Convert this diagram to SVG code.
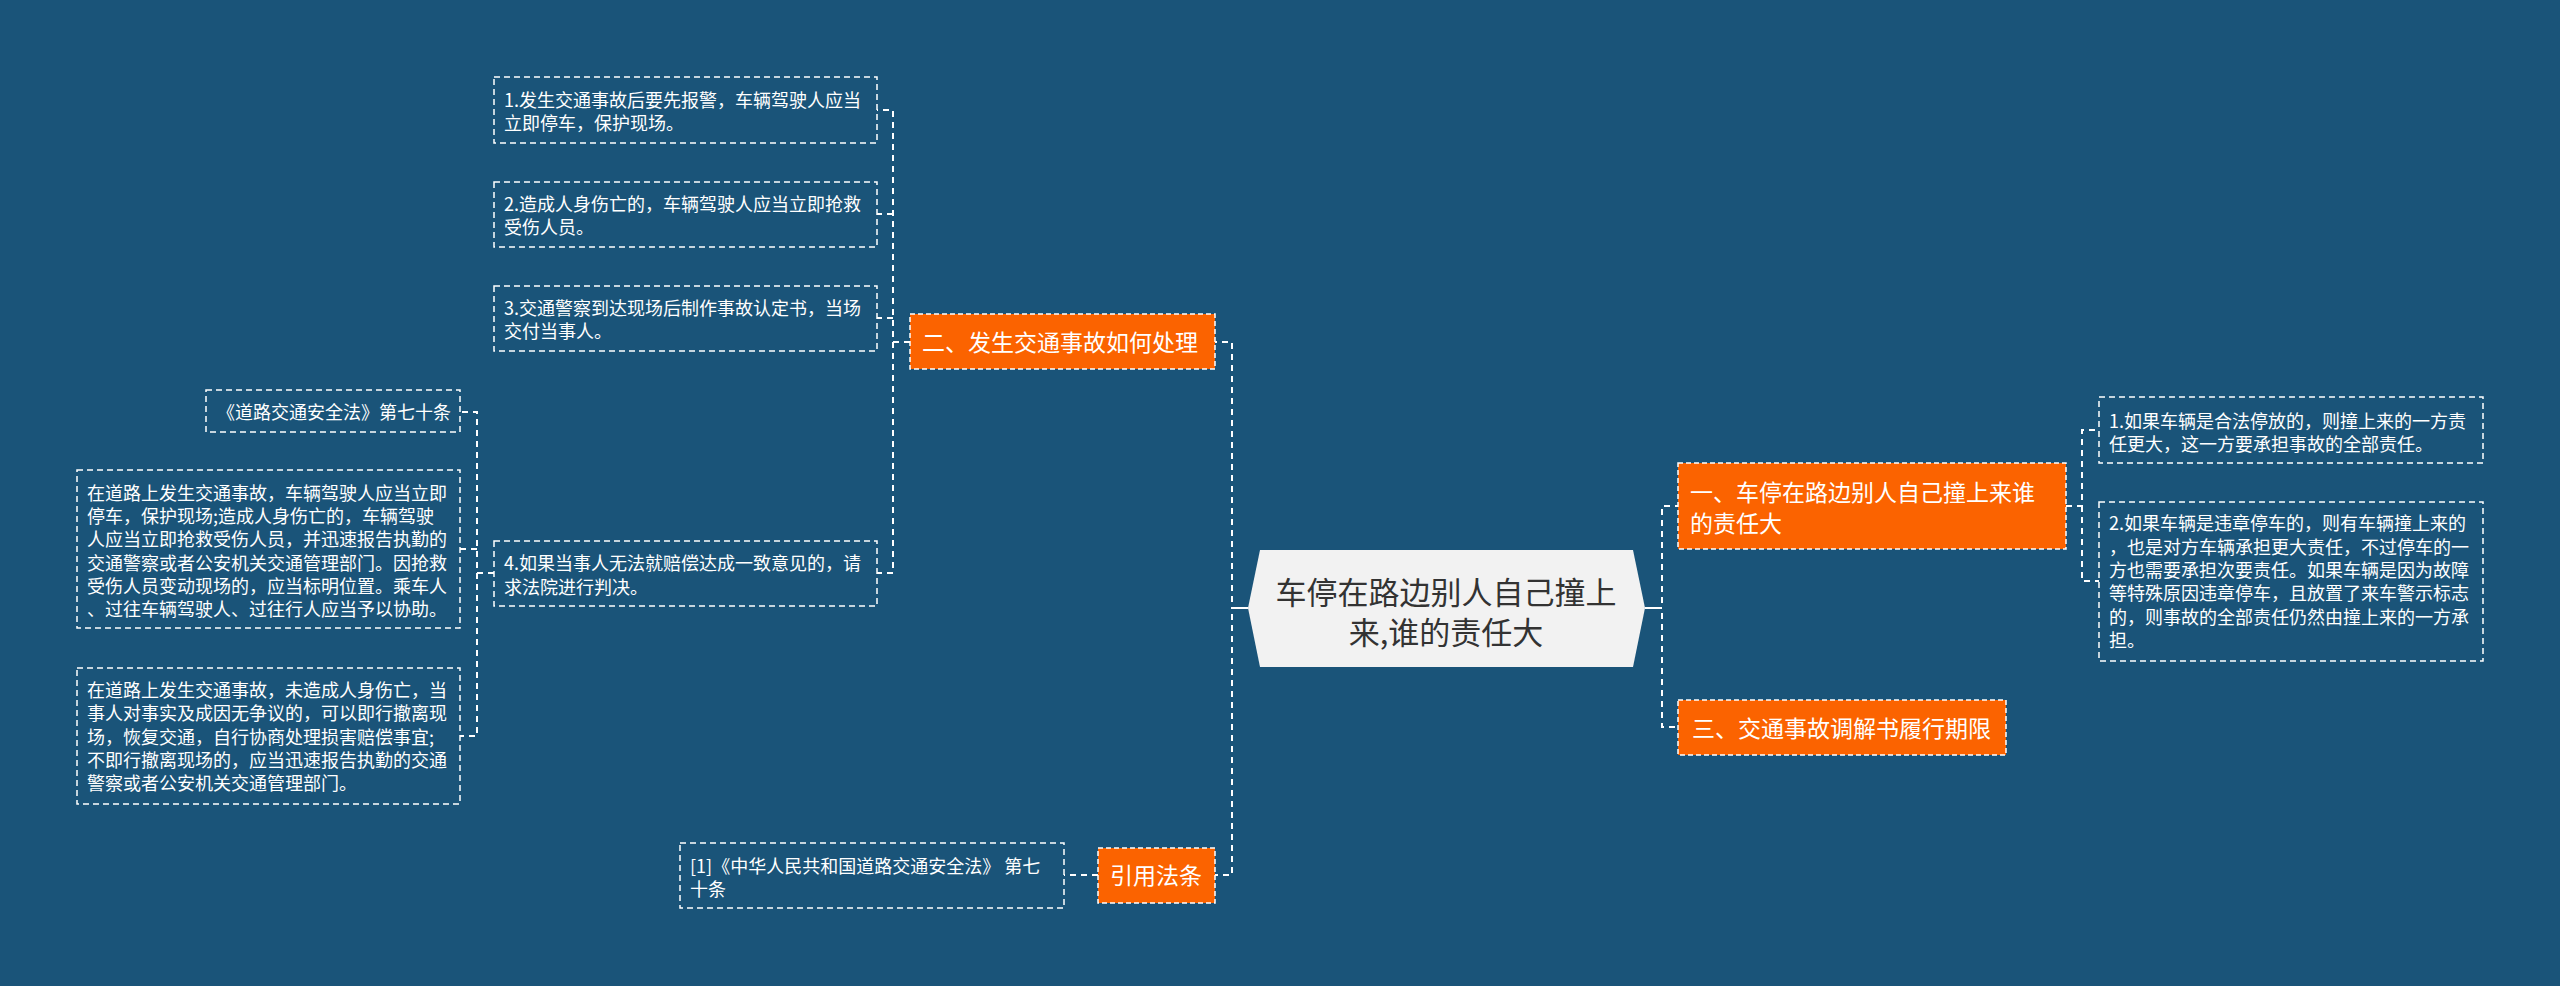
<svg xmlns="http://www.w3.org/2000/svg" width="2560" height="986" viewBox="0 0 2560 986">
<style>
.bg{fill:#1a5479}
.box{fill:none;stroke:#ffffff;stroke-width:1.5;stroke-dasharray:6 4}
.obox{fill:#fb6300;stroke:#ffffff;stroke-width:1.5;stroke-dasharray:5 3}
.t{font-family:"Noto Sans CJK SC","Liberation Sans",sans-serif;font-size:18px;fill:#ffffff}
.ot{font-family:"Noto Sans CJK SC","Liberation Sans",sans-serif;font-size:23px;fill:#ffffff}
.ct{font-family:"Noto Sans CJK SC","Liberation Sans",sans-serif;font-size:31px;fill:#333333;text-anchor:middle}
.c{fill:none;stroke:#ffffff;stroke-width:2;stroke-dasharray:6 5}
.cs{fill:none;stroke:#ffffff;stroke-width:2}
</style>
<rect class="bg" x="0" y="0" width="2560" height="986"/>
<g id="connectors">
<path class="c" d="M1248,608 H1232 V342 H1215"/>
<path class="c" d="M1248,608 H1232 V875 H1215"/>
<path class="c" d="M1645,608 H1662 V506 H1678"/>
<path class="c" d="M1645,608 H1662 V727 H1678"/>
<line class="cs" x1="1232" y1="608" x2="1248" y2="608"/>
<line class="cs" x1="1645" y1="608" x2="1662" y2="608"/>
<path class="c" d="M910,342 H893 V110 H877"/>
<path class="c" d="M893,214 H877"/>
<path class="c" d="M893,318 H877"/>
<path class="c" d="M893,342 V573 H877"/>
<path class="c" d="M494,573 H477 V412 H460"/>
<path class="c" d="M477,549 H460"/>
<path class="c" d="M477,573 V736 H460"/>
<path class="c" d="M2066,506 H2082 V430 H2099"/>
<path class="c" d="M2082,506 V581 H2099"/>
<path class="c" d="M1098,875 H1064"/>
</g>
<g id="center">
<polygon points="1248,608 1260,550 1633,550 1645,608 1633,667 1260,667" fill="#f2f2f2"/>
<text class="ct" x="1446" y="604">车停在路边别人自己撞上</text>
<text class="ct" x="1446" y="644">来,谁的责任大</text>
</g>
<g id="n-er">
<rect class="obox" x="910" y="314" width="305" height="55"/>
<text class="ot" x="922" y="351">二、发生交通事故如何处理</text>
</g>
<g id="n-yinyong">
<rect class="obox" x="1098" y="848" width="117" height="55"/>
<text class="ot" x="1110" y="884">引用法条</text>
</g>
<g id="n-yi">
<rect class="obox" x="1678" y="463" width="388" height="86"/>
<text class="ot" x="1690" y="501">一、车停在路边别人自己撞上来谁</text>
<text class="ot" x="1690" y="532">的责任大</text>
</g>
<g id="n-san">
<rect class="obox" x="1678" y="700" width="328" height="55"/>
<text class="ot" x="1692" y="737">三、交通事故调解书履行期限</text>
</g>
<g id="b1">
<rect class="box" x="494" y="77" width="383" height="66"/>
<text class="t" x="504" y="107">1.发生交通事故后要先报警，车辆驾驶人应当</text>
<text class="t" x="504" y="130">立即停车，保护现场。</text>
</g>
<g id="b2">
<rect class="box" x="494" y="182" width="383" height="65"/>
<text class="t" x="504" y="211">2.造成人身伤亡的，车辆驾驶人应当立即抢救</text>
<text class="t" x="504" y="234">受伤人员。</text>
</g>
<g id="b3">
<rect class="box" x="494" y="286" width="383" height="65"/>
<text class="t" x="504" y="315">3.交通警察到达现场后制作事故认定书，当场</text>
<text class="t" x="504" y="338">交付当事人。</text>
</g>
<g id="b4">
<rect class="box" x="494" y="541" width="383" height="65"/>
<text class="t" x="504" y="570">4.如果当事人无法就赔偿达成一致意见的，请</text>
<text class="t" x="504" y="594">求法院进行判决。</text>
</g>
<g id="law0">
<rect class="box" x="206" y="390" width="254" height="42"/>
<text class="t" x="217" y="419">《道路交通安全法》第七十条</text>
</g>
<g id="law1">
<rect class="box" x="77" y="470" width="383" height="158"/>
<text class="t" x="87" y="500">在道路上发生交通事故，车辆驾驶人应当立即</text>
<text class="t" x="87" y="523">停车，保护现场;造成人身伤亡的，车辆驾驶</text>
<text class="t" x="87" y="546">人应当立即抢救受伤人员，并迅速报告执勤的</text>
<text class="t" x="87" y="570">交通警察或者公安机关交通管理部门。因抢救</text>
<text class="t" x="87" y="593">受伤人员变动现场的，应当标明位置。乘车人</text>
<text class="t" x="87" y="616">、过往车辆驾驶人、过往行人应当予以协助。</text>
</g>
<g id="law2">
<rect class="box" x="77" y="668" width="383" height="136"/>
<text class="t" x="87" y="697">在道路上发生交通事故，未造成人身伤亡，当</text>
<text class="t" x="87" y="720">事人对事实及成因无争议的，可以即行撤离现</text>
<text class="t" x="87" y="744">场，恢复交通，自行协商处理损害赔偿事宜;</text>
<text class="t" x="87" y="767">不即行撤离现场的，应当迅速报告执勤的交通</text>
<text class="t" x="87" y="790">警察或者公安机关交通管理部门。</text>
</g>
<g id="ref">
<rect class="box" x="680" y="843" width="384" height="65"/>
<text class="t" x="690" y="873">[1]《中华人民共和国道路交通安全法》 第七</text>
<text class="t" x="690" y="896">十条</text>
</g>
<g id="r1">
<rect class="box" x="2099" y="397" width="384" height="66"/>
<text class="t" x="2109" y="428">1.如果车辆是合法停放的，则撞上来的一方责</text>
<text class="t" x="2109" y="451">任更大，这一方要承担事故的全部责任。</text>
</g>
<g id="r2">
<rect class="box" x="2099" y="502" width="384" height="159"/>
<text class="t" x="2109" y="530">2.如果车辆是违章停车的，则有车辆撞上来的</text>
<text class="t" x="2109" y="554">，也是对方车辆承担更大责任，不过停车的一</text>
<text class="t" x="2109" y="577">方也需要承担次要责任。如果车辆是因为故障</text>
<text class="t" x="2109" y="600">等特殊原因违章停车，且放置了来车警示标志</text>
<text class="t" x="2109" y="624">的，则事故的全部责任仍然由撞上来的一方承</text>
<text class="t" x="2109" y="647">担。</text>
</g>
</svg>
